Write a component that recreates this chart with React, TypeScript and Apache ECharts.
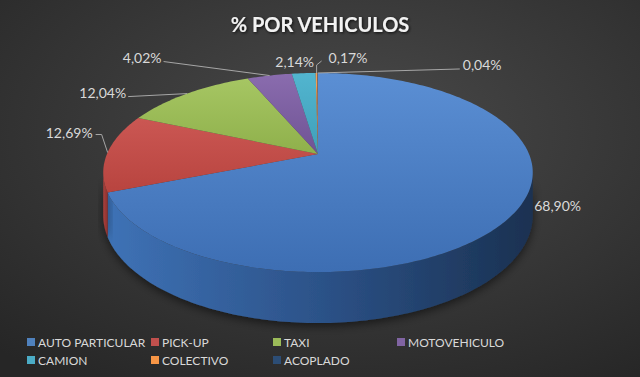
import React, { useEffect, useRef } from 'react';
import * as echarts from 'echarts';

// ---- data ----
const categories = ['AUTO PARTICULAR', 'PICK-UP', 'TAXI', 'MOTOVEHICULO', 'CAMION', 'COLECTIVO', 'ACOPLADO'];
const values = [68.9, 12.69, 12.04, 4.02, 2.14, 0.17, 0.04];
const valueLabels = ['68,90%', '12,69%', '12,04%', '4,02%', '2,14%', '0,17%', '0,04%'];
const legendColumns = [
  ['AUTO PARTICULAR', 'CAMION'],
  ['PICK-UP', 'COLECTIVO'],
  ['TAXI', 'ACOPLADO'],
  ['MOTOVEHICULO'],
];

// ---- styles ----
const FONT = 'Lato, "Open Sans", sans-serif';
const baseColors = ['#4f81bd', '#c0504d', '#9bbb59', '#8064a2', '#4bacc6', '#f79646', '#2c4d75'];
const topLight = ['#5b8fd4', '#cb5753', '#a6c663', '#8a6cae', '#52b5cf', '#f79f55', '#34598a'];
const topDark = ['#3d6eb3', '#b8443f', '#8fb04b', '#6f5394', '#3f9fb9', '#e8873c', '#26446a'];
const sideColors: string[][] = [
  ['#3e72b6', '#2c5288', '#1a3151'],
  ['#a8403c', '#9a3835', '#8a302d'],
  ['#7f9a45', '#6f883b', '#5f7632'],
  ['#65507f', '#574470', '#493a60'],
  ['#3a8aa0', '#317a8e', '#296a7c'],
  ['#c97a37', '#b56d31', '#a1612b'],
  ['#213a59', '#1c324c', '#172a40'],
];
const legendLefts = [27, 151, 273, 397];
// label placement: text offset from slice anchor and leader-line elbows (relative to anchor)
const labelLayout: { dx: number; dy: number; align: 'left' | 'right' | 'center'; leader: number[][] }[] = [
  { dx: 21, dy: -9, align: 'left', leader: [] },
  { dx: -15, dy: -20, align: 'right', leader: [[-6, -18], [-12, -18]] },
  { dx: -61, dy: -1, align: 'right', leader: [[-59, 3]] },
  { dx: -108, dy: -18, align: 'right', leader: [[-106, -14]] },
  { dx: -9, dy: -12, align: 'center', leader: [] },
  { dx: 12, dy: -15, align: 'left', leader: [[0, -8], [5, -12]] },
  { dx: 145, dy: -8, align: 'left', leader: [[142, -4]] },
];

// ---- pie geometry (perspective projection of a tilted disc) ----
const CX = 318, CY = 154, A = 211, B = 96.1, K = 0.186, T = 41.5;
const total = values.reduce((s, v) => s + v, 0);
const starts: number[] = [];
{
  let acc = 0;
  values.forEach((v) => { starts.push((acc / total) * 360); acc += v; });
}
function proj(phiDeg: number, drop = 0): number[] {
  const p = (phiDeg * Math.PI) / 180;
  const u = Math.sin(p);
  const v = -Math.cos(p);
  const w = 1 - K * v;
  return [CX + (A * u) / w, CY + (B * v) / w + drop / w];
}
function arc(a0: number, a1: number, drop = 0): number[][] {
  const n = Math.max(2, Math.ceil(Math.abs(a1 - a0) / 1) + 1);
  const pts: number[][] = [];
  for (let j = 0; j < n; j++) pts.push(proj(a0 + ((a1 - a0) * j) / (n - 1), drop));
  return pts;
}
const VIS0 = (Math.acos(-K) * 180) / Math.PI; // right silhouette
const VIS1 = 360 - VIS0; // left silhouette

function sideItem(i: number) {
  const a0 = Math.max(starts[i], VIS0);
  const a1 = Math.min(starts[i] + (values[i] / total) * 360, VIS1);
  if (a1 <= a0) return { type: 'group', children: [] };
  const top = arc(a0, a1);
  const bot = arc(a0, a1, T).reverse();
  const c = sideColors[i];
  return {
    type: 'polygon',
    shape: { points: top.concat(bot) },
    style: {
      fill: new echarts.graphic.LinearGradient(0, 0, 1, 0, [
        { offset: 0, color: c[0] },
        { offset: 0.5, color: c[1] },
        { offset: 1, color: c[2] },
      ]),
      shadowBlur: 10,
      shadowColor: 'rgba(0,0,0,0.55)',
      shadowOffsetY: 3,
    },
  };
}

function topItem(i: number) {
  const a0 = starts[i];
  const a1 = a0 + (values[i] / total) * 360;
  const pts = [[CX, CY]].concat(arc(a0, a1));
  return {
    type: 'polygon',
    shape: { points: pts },
    style: {
      fill: new echarts.graphic.LinearGradient(0, 0, 0, 1, [
        { offset: 0, color: topLight[i] },
        { offset: 1, color: topDark[i] },
      ]),
    },
  };
}

function labelItem(i: number) {
  const mid = starts[i] + (values[i] / total) * 180;
  const [ax, ay] = proj(mid);
  const L = labelLayout[i];
  const children: any[] = [];
  if (L.leader.length) {
    const pts = [[ax, ay]].concat(L.leader.map(([x, y]) => [ax + x, ay + y]));
    children.push({
      type: 'polyline',
      shape: { points: pts },
      style: { stroke: '#a6a6a6', lineWidth: 1, fill: null },
    });
  }
  children.push({
    type: 'text',
    x: ax + L.dx,
    y: ay + L.dy,
    style: {
      text: valueLabels[i],
      fill: '#d9d9d9',
      fontSize: 14,
      fontFamily: FONT,
      align: L.align,
      verticalAlign: 'middle',
    },
  });
  return { type: 'group', children };
}

export default function App() {
  const ref = useRef<HTMLDivElement>(null);
  useEffect(() => {
    document.body.style.margin = '0';
    const chart = echarts.init(ref.current!, undefined, { renderer: 'svg' });
    const series: any[] = [
      {
        type: 'custom',
        name: '_sides',
        coordinateSystem: 'none',
        silent: true,
        z: 1,
        data: values.map((_, i) => [i]),
        renderItem: (params: any) => sideItem(params.dataIndex),
      },
    ];
    categories.forEach((name, i) => {
      series.push({
        type: 'custom',
        name,
        coordinateSystem: 'none',
        silent: true,
        z: 2,
        itemStyle: { color: baseColors[i] },
        data: [[values[i]]],
        renderItem: () => topItem(i),
      });
    });
    series.push({
      type: 'custom',
      name: '_labels',
      coordinateSystem: 'none',
      silent: true,
      z: 5,
      data: values.map((_, i) => [i]),
      renderItem: (params: any) => labelItem(params.dataIndex),
    });
    chart.setOption({
      animation: false,
      backgroundColor: new echarts.graphic.RadialGradient(0.55, 0.35, 0.8, [
        { offset: 0, color: '#4a4a4a' },
        { offset: 1, color: '#262626' },
      ]),
      title: {
        text: '% POR VEHICULOS',
        left: 'center',
        top: 9,
        textStyle: {
          color: '#f2f2f2',
          fontSize: 20,
          fontWeight: 'bold',
          fontFamily: FONT,
          textShadowColor: 'rgba(0,0,0,0.8)',
          textShadowBlur: 3,
          textShadowOffsetX: 1,
          textShadowOffsetY: 1,
        },
      },
      legend: legendColumns.map((col, j) => ({
        orient: 'vertical',
        left: legendLefts[j],
        top: 335,
        padding: 0,
        itemWidth: 8,
        itemHeight: 8,
        itemGap: 4,
        icon: 'rect',
        selectedMode: false,
        data: col.map((n) => ({ name: n, itemStyle: { color: baseColors[categories.indexOf(n)] } })),
        textStyle: {
          color: '#d9d9d9',
          fontSize: 12,
          lineHeight: 14,
          fontFamily: FONT,
          padding: [0, 0, 0, -2],
        },
      })),
      series,
    });
    return () => chart.dispose();
  }, []);
  return <div ref={ref} style={{ width: 640, height: 377 }} />;
}
